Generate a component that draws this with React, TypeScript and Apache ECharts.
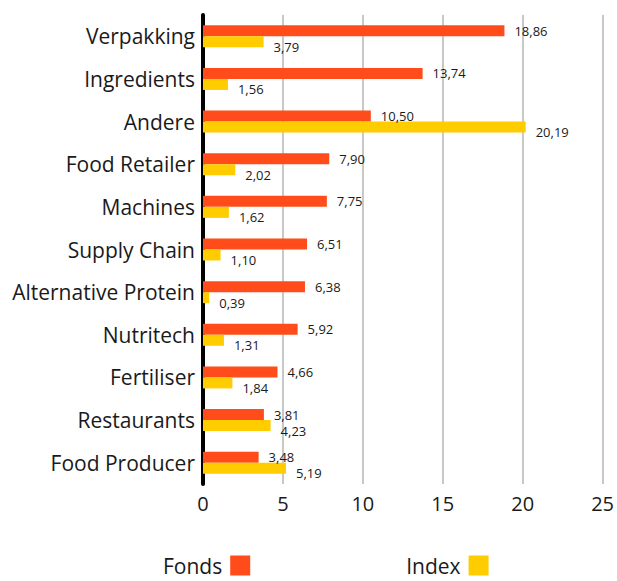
import React, { useEffect, useRef } from "react";
import * as echarts from "echarts";

const categories = [
  "Verpakking",
  "Ingredients",
  "Andere",
  "Food Retailer",
  "Machines",
  "Supply Chain",
  "Alternative Protein",
  "Nutritech",
  "Fertiliser",
  "Restaurants",
  "Food Producer",
];
const fonds = [18.86, 13.74, 10.5, 7.9, 7.75, 6.51, 6.38, 5.92, 4.66, 3.81, 3.48];
const indexValues = [3.79, 1.56, 20.19, 2.02, 1.62, 1.1, 0.39, 1.31, 1.84, 4.23, 5.19];

const FONT = "'Open Sans', 'Noto Sans', sans-serif";
const fmt = (p: any) => Number(p.value).toFixed(2).replace(".", ",");

export default function App() {
  const ref = useRef<HTMLDivElement>(null);
  useEffect(() => {
    if (!ref.current) return;
    const chart = echarts.init(ref.current, undefined, { renderer: "svg" });
    chart.setOption({
      animation: false,
      textStyle: { fontFamily: FONT },
      grid: { left: 203, right: 13, top: 15, bottom: 97, containLabel: false },
      legend: {
        data: ["Fonds", "Index"],
        left: 158,
        top: 550,
        align: "right",
        icon: "rect",
        itemWidth: 20,
        itemHeight: 20,
        itemGap: 156,
        textStyle: { fontSize: 21, color: "#1a1a1a", fontFamily: FONT, padding: [0, 3, 0, 0] },
      },
      xAxis: {
        type: "value",
        min: 0,
        max: 25,
        interval: 5,
        axisLine: { show: false },
        axisTick: { show: false },
        splitLine: { lineStyle: { color: "#c8c8c8", width: 2 } },
        axisLabel: { fontSize: 20, color: "#1a1a1a", margin: 9, fontFamily: FONT },
      },
      yAxis: {
        type: "category",
        data: categories,
        inverse: true,
        axisLine: { show: true, lineStyle: { color: "#000", width: 4 } },
        axisTick: { show: false },
        axisLabel: { fontSize: 21, color: "#1a1a1a", margin: 8, fontFamily: FONT },
      },
      series: [
        {
          name: "Fonds",
          type: "bar",
          data: fonds,
          barWidth: 11,
          barGap: "0%",
          itemStyle: { color: "#FF4C1A" },
          label: {
            show: true,
            position: "right",
            distance: 10,
            formatter: fmt,
            fontSize: 13,
            color: "#1a1a1a",
            fontFamily: FONT,
          },
        },
        {
          name: "Index",
          type: "bar",
          data: indexValues,
          barWidth: 11,
          barGap: "0%",
          itemStyle: { color: "#FFCC00" },
          label: {
            show: true,
            position: "right",
            distance: 10,
            offset: [0, 5],
            formatter: fmt,
            fontSize: 13,
            color: "#1a1a1a",
            fontFamily: FONT,
          },
        },
      ],
    });
    return () => chart.dispose();
  }, []);
  return (
    <div
      ref={ref}
      style={{ position: "absolute", left: 0, top: 0, width: 617, height: 581 }}
    />
  );
}
